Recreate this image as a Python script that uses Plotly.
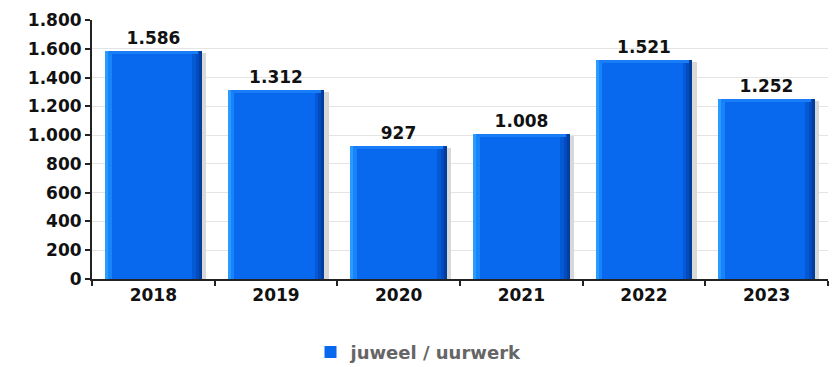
import plotly.graph_objects as go

years = ["2018", "2019", "2020", "2021", "2022", "2023"]
values = [1586, 1312, 927, 1008, 1521, 1252]
series_name = "juweel / uurwerk"
y_ticks = [0, 200, 400, 600, 800, 1000, 1200, 1400, 1600, 1800]

x = list(range(len(years)))
BAR_W = 0.79
FONT = "DejaVu Sans"


def dotted(v):
    return f"{v:,}".replace(",", ".")


fig = go.Figure()

# soft grey drop shadow on the right of each bar
fig.add_trace(go.Bar(
    x=x, y=[v - 15 for v in values], width=0.035, offset=BAR_W / 2,
    marker=dict(color="#D8D8D8", line=dict(width=0)),
    showlegend=False, hoverinfo="skip",
))

# main body of each bar
fig.add_trace(go.Bar(
    x=x, y=values, width=BAR_W, name=series_name,
    marker=dict(color="#0868EE", line=dict(width=0)),
    text=[dotted(v) for v in values],
    textposition="outside", cliponaxis=False,
    textfont=dict(family=FONT, size=17, color="#111111", weight="bold"),
    showlegend=True,
))

# shading strips for a rounded look: light left edge, dark right edge
strips = [
    (-BAR_W / 2, 0.025, "#2A9BFF"),
    (-BAR_W / 2 + 0.025, 0.03, "#1784FA"),
    (BAR_W / 2 - 0.08, 0.03, "#0459D6"),
    (BAR_W / 2 - 0.05, 0.025, "#034BBE"),
    (BAR_W / 2 - 0.025, 0.025, "#023E9E"),
]
for off, w, col in strips:
    fig.add_trace(go.Bar(
        x=x, y=values, width=w, offset=off,
        marker=dict(color=col, line=dict(width=0)),
        showlegend=False, hoverinfo="skip",
    ))

# bevel cap on the top of each bar
cap = 22
fig.add_trace(go.Bar(
    x=x, y=[cap] * len(values), base=[v - cap for v in values],
    width=BAR_W - 0.06,
    marker=dict(color="#1A7DF8", line=dict(width=0)),
    showlegend=False, hoverinfo="skip",
))

fig.update_layout(
    width=838, height=367,
    margin=dict(l=92, r=10, t=17, b=88),
    paper_bgcolor="white", plot_bgcolor="white",
    barmode="overlay", bargap=0,
    separators=",.",
    font=dict(family=FONT, size=17, color="#111111"),
    showlegend=True,
    legend=dict(
        orientation="h", xref="container", yref="container",
        x=0.5, xanchor="center", y=0.04, yanchor="middle",
        font=dict(family=FONT, size=18, color="#666666", weight="bold"),
    ),
)

fig.update_xaxes(
    range=[-0.5, len(years) - 0.5],
    tickmode="array", tickvals=x, ticktext=years,
    ticks="", showgrid=False,
    tickfont=dict(family=FONT, size=17, color="#111111", weight="bold"),
    showline=True, linecolor="#222222", linewidth=2,
    minor=dict(tickmode="linear", tick0=-0.5, dtick=1, ticks="outside",
               ticklen=5, tickcolor="#222222", tickwidth=2, showgrid=False),
)

fig.update_yaxes(
    range=[0, 1800],
    tickmode="array", tickvals=y_ticks,
    ticktext=[dotted(v) for v in y_ticks],
    ticks="outside", ticklen=5, tickcolor="#222222", tickwidth=2,
    tickfont=dict(family=FONT, size=17, color="#111111", weight="bold"),
    showline=True, linecolor="#222222", linewidth=2,
    showgrid=True, gridcolor="#E4E4E4", gridwidth=1,
    zeroline=False,
)

fig.write_html("out.html")
